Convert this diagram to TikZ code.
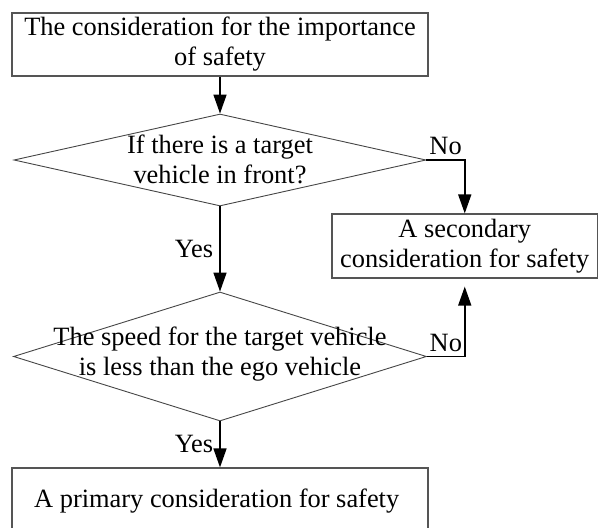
\documentclass[tikz,border=0pt]{standalone}
\usepackage{fontspec}
\setmainfont{Liberation Serif}
\usetikzlibrary{shapes.geometric, arrows.meta, positioning}
\usepackage{xcolor}
\definecolor{boxgray}{RGB}{85, 85, 85}
\definecolor{linegray}{RGB}{70, 70, 70}
\tikzset{
    step box/.style={
        rectangle,
        draw=boxgray,
        line width=1.2pt,
        inner sep=0pt,
        align=center,
        font=\fontsize{26.4}{30}\selectfont
    },
    decision/.style={
        diamond,
        draw=linegray,
        line width=0.9pt,
        inner sep=0pt
    },
    flow text/.style={
        align=center,
        inner sep=0pt,
        font=\fontsize{26.4}{30}\selectfont
    },
    arrow/.style={
        -{Triangle[length=19pt, width=13pt]},
        line width=1.6pt,
        draw=black
    },
    answer/.style={
        inner sep=3pt,
        font=\fontsize{26.4}{30}\selectfont
    }
}

\begin{document}
\begin{tikzpicture}[x=1pt, y=-1pt]

\useasboundingbox (0, 0) rectangle (599, 527);

% Start
\node[step box, minimum width=416pt, minimum height=63pt] (start) at (220, 44.5) {
    The consideration for the importance\\of safety
};

% === DECISIONS ===

% Target vehicle in front?
\node[decision, minimum width=412pt, minimum height=92pt] (front) at (220, 160) {};
\node[flow text] (front_text) at (220, 159) {If there is a target\\vehicle in front?};

% Slower than ego vehicle?
\node[decision, minimum width=413pt, minimum height=129pt] (speed) at (220, 356.5) {};
\node[flow text] (speed_text) at (220, 354) {The speed for the target vehicle\\is less than the ego vehicle};

% === RESULTS ===

\node[step box, minimum width=265.5pt, minimum height=64pt] (secondary) at (464.75, 246) {
    A secondary\\consideration for safety
};

\node[step box, minimum width=416pt, minimum height=67pt] (primary) at (220, 501.5) {
    A primary consideration for safety
};

% Connectors
\draw[arrow] (start.south) -- (front.north);
\draw[arrow] (front.south) -- node[answer, left=3pt] (yes1) {Yes} (speed.north);
\draw[arrow] (speed.south) -- node[answer, left=3pt] (yes2) {Yes} (primary.north);
\draw[arrow] (front.east) -| node[answer, pos=0.25, above=1pt] (no1) {No} (secondary.north);
\draw[arrow, shorten >=8pt] (speed.east) -| node[answer, pos=0.25, above=1pt] (no2) {No} (secondary.south);

\end{tikzpicture}
\end{document}
